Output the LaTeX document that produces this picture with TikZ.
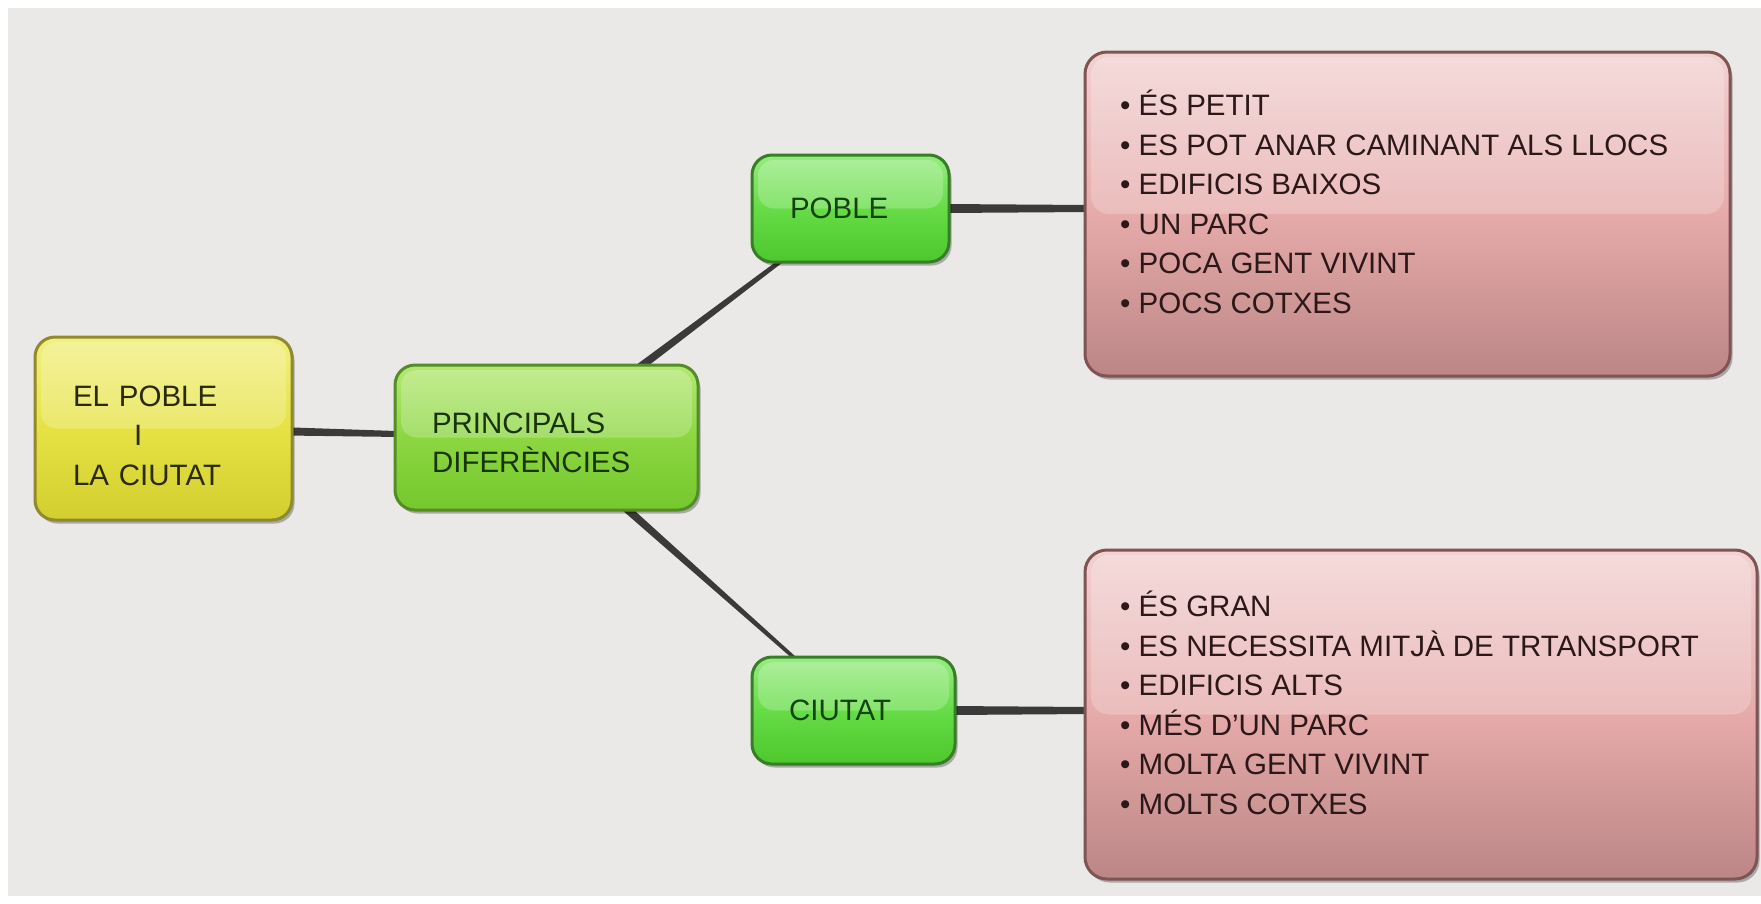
\documentclass[tikz,border=0pt]{standalone}
\usepackage{fontspec}
\setmainfont{Liberation Sans}
\usetikzlibrary{calc,shadows}
\pgfdeclarelayer{bg}
\pgfdeclarelayer{links}
\pgfsetlayers{bg,links,main}
\definecolor{bgc}{HTML}{EAE9E7}
\definecolor{linkc}{HTML}{3A3A3A}
\definecolor{ytop}{HTML}{F2F080}
\definecolor{ymid}{HTML}{E6E244}
\definecolor{ybot}{HTML}{D2CE2E}
\definecolor{ybrd}{HTML}{908A2E}
\definecolor{ytxt}{HTML}{2A2A06}
\definecolor{ptop}{HTML}{B4E872}
\definecolor{pmid}{HTML}{8CD642}
\definecolor{pbot}{HTML}{74C82C}
\definecolor{pbrd}{HTML}{548C2A}
\definecolor{ptxt}{HTML}{1A340A}
\definecolor{gtop}{HTML}{96EC80}
\definecolor{gmid}{HTML}{66DC46}
\definecolor{gbot}{HTML}{4CC82C}
\definecolor{gbrd}{HTML}{387E28}
\definecolor{gtxt}{HTML}{14440E}
\definecolor{rtop}{HTML}{F2D2D2}
\definecolor{rmid}{HTML}{E6AAAA}
\definecolor{rbot}{HTML}{BC8686}
\definecolor{rbrd}{HTML}{805454}
\definecolor{rtxt}{HTML}{2C1818}
\newcommand\mmfont{\fontsize{29.5}{39.6}\selectfont}
\begin{document}
\begin{tikzpicture}[x=1pt,y=-1pt,
  gloss/.style={path picture={\fill[white,opacity=0.22,rounded corners=#1]
     ([xshift=6pt,yshift=-5pt]path picture bounding box.north west) rectangle
     ([xshift=-6pt]path picture bounding box.east);}},
  shade/.style={drop shadow={shadow xshift=2.5pt,shadow yshift=-3.5pt,opacity=0.28,fill=black}},
  mmbox/.style={rounded corners=20pt, line width=3pt, align=left,
     font=\mmfont, inner ysep=2pt, shade},
  yellowbox/.style={mmbox, draw=ybrd, top color=ytop, bottom color=ybot, middle color=ymid,
     text=ytxt, gloss=16pt},
  prinbox/.style={mmbox, draw=pbrd, top color=ptop, bottom color=pbot, middle color=pmid,
     text=ptxt, gloss=16pt},
  greenbox/.style={mmbox, draw=gbrd, top color=gtop, bottom color=gbot, middle color=gmid,
     text=gtxt, gloss=16pt},
  pinkbox/.style={rounded corners=22pt, line width=3pt, draw=rbrd,
     top color=rtop, bottom color=rbot, middle color=rmid, gloss=18pt, shade},
  listtext/.style={anchor=base west, inner sep=0pt, font=\mmfont, text=rtxt},
  conn/.style={fill=linkc}
]
\useasboundingbox (0,0) rectangle (1761,903);
\begin{pgfonlayer}{bg}
  \fill[white] (0,0) rectangle (1761,903);
  \fill[bgc] (8,8) rectangle (1761,896);
\end{pgfonlayer}

% nodes
\node[yellowbox, minimum width=257pt, minimum height=183pt, inner xsep=38pt, text width=181pt]
  (yellow) at (163.5,428.5) {\rule{0pt}{35pt}EL POBLE\\\hspace*{61pt}I\\LA CIUTAT};
\node[prinbox, minimum width=303pt, minimum height=145pt, inner xsep=37pt, text width=229pt]
  (prin) at (546.5,437.5) {\rule{0pt}{31pt}PRINCIPALS\\DIFERÈNCIES};
\node[greenbox, minimum width=197pt, minimum height=107pt, inner xsep=38pt, text width=121pt]
  (poble) at (850.5,208.5) {POBLE};
\node[greenbox, minimum width=203pt, minimum height=107pt, inner xsep=37pt, text width=129pt]
  (ciutat) at (853.5,710.5) {CIUTAT};
\node[pinkbox, minimum width=645pt, minimum height=324pt] (p1) at (1407.5,214) {};
\node[pinkbox, minimum width=672pt, minimum height=329pt] (p2) at (1421,714.5) {};

\node[listtext] (p1list) at (1120,115.5) {\parbox[t]{600pt}{%
  • ÉS PETIT\\
  • ES POT ANAR CAMINANT ALS LLOCS\\
  • EDIFICIS BAIXOS\\
  • UN PARC\\
  • POCA GENT VIVINT\\
  • POCS COTXES}};
\node[listtext] (p2list) at (1120,616.5) {\parbox[t]{620pt}{%
  • ÉS GRAN\\
  • ES NECESSITA MITJÀ DE TRTANSPORT\\
  • EDIFICIS ALTS\\
  • MÉS D’UN PARC\\
  • MOLTA GENT VIVINT\\
  • MOLTS COTXES}};

% connectors (tapered), behind the boxes
\begin{pgfonlayer}{links}
  \fill[conn] ($(yellow)!5.4pt!90:(prin)$) -- ($(prin)!1.4pt!-90:(yellow)$)
     -- ($(prin)!1.4pt!90:(yellow)$) -- ($(yellow)!5.4pt!-90:(prin)$) -- cycle;
  \fill[conn] ($(prin)!5.2pt!90:(poble)$) -- ($(poble)!1.3pt!-90:(prin)$)
     -- ($(poble)!1.3pt!90:(prin)$) -- ($(prin)!5.2pt!-90:(poble)$) -- cycle;
  \fill[conn] ($(prin)!5.0pt!90:(ciutat)$) -- ($(ciutat)!1.0pt!-90:(prin)$)
     -- ($(ciutat)!1.0pt!90:(prin)$) -- ($(prin)!5.0pt!-90:(ciutat)$) -- cycle;
  \fill[conn] ($(poble.east)+(-6pt,4.5pt)$) -- ($(poble.east -| p1.west)+(6pt,3.5pt)$)
     -- ($(poble.east -| p1.west)+(6pt,-3.5pt)$) -- ($(poble.east)+(-6pt,-4.5pt)$) -- cycle;
  \fill[conn] ($(ciutat.east)+(-6pt,4.5pt)$) -- ($(ciutat.east -| p2.west)+(6pt,3.5pt)$)
     -- ($(ciutat.east -| p2.west)+(6pt,-3.5pt)$) -- ($(ciutat.east)+(-6pt,-4.5pt)$) -- cycle;
\end{pgfonlayer}
\end{tikzpicture}
\end{document}
